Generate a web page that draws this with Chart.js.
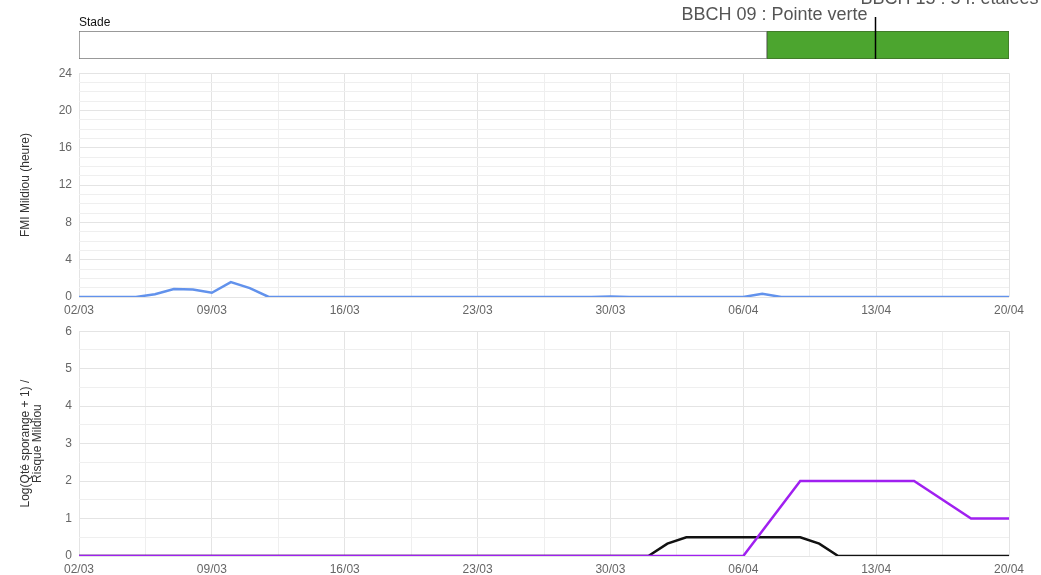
<!DOCTYPE html>
<html>
<head>
<meta charset="utf-8">
<script src="https://cdn.jsdelivr.net/npm/chart.js@4"></script>
<style>
  body { margin: 0; background: #fff; }
  #wrap { position: relative; width: 1041px; height: 575px; }
  canvas { position: absolute; left: 0; }
</style>
</head>
<body>
<div id="wrap">
  <canvas id="stade" width="1041" height="66" style="top:0"></canvas>
  <canvas id="fmi" width="1041" height="261" style="top:59px"></canvas>
  <canvas id="risque" width="1041" height="258" style="top:317px"></canvas>
</div>
<script>
// one entry per day, 02/03 -> 20/04
const dates = [
  '02/03','03/03','04/03','05/03','06/03','07/03','08/03','09/03','10/03','11/03',
  '12/03','13/03','14/03','15/03','16/03','17/03','18/03','19/03','20/03','21/03',
  '22/03','23/03','24/03','25/03','26/03','27/03','28/03','29/03','30/03','31/03',
  '01/04','02/04','03/04','04/04','05/04','06/04','07/04','08/04','09/04','10/04',
  '11/04','12/04','13/04','14/04','15/04','16/04','17/04','18/04','19/04','20/04'
];

// FMI Mildiou (heure)
const fmiHours = [
  0, 0, 0, 0, 0.3, 0.85, 0.8, 0.45, 1.6, 0.95,
  0, 0, 0, 0, 0, 0, 0, 0, 0, 0,
  0, 0, 0, 0, 0, 0, 0, 0, 0.05, 0,
  0, 0, 0, 0, 0, 0, 0.35, 0, 0, 0,
  0, 0, 0, 0, 0, 0, 0, 0, 0, 0
];

// Log(Qté sporange + 1)
const sporangeLog = [
  0, 0, 0, 0, 0, 0, 0, 0, 0, 0,
  0, 0, 0, 0, 0, 0, 0, 0, 0, 0,
  0, 0, 0, 0, 0, 0, 0, 0, 0, 0,
  0, 0.33, 0.5, 0.5, 0.5, 0.5, 0.5, 0.5, 0.5, 0.33,
  0, 0, 0, 0, 0, 0, 0, 0, 0, 0
];

// Risque Mildiou (gaps = no value that day)
const risqueMildiou = [
  0, 0, 0, 0, 0, 0, 0, 0, 0, 0,
  0, 0, 0, 0, 0, 0, 0, 0, 0, 0,
  0, 0, 0, 0, 0, 0, 0, 0, 0, 0,
  0, 0, 0, 0, 0, 0, null, null, 2, 2,
  2, 2, 2, 2, 2, null, null, 1, 1, 1
];

// stage bar (day index from 02/03)
const stageNames = ['', 'BBCH 09 : Pointe verte'];
const stageStart = [0, 36.25];
const stageEnd = [36.25, 49];
const stageColors = ['#ffffff', '#4ca52f'];
const markerDay = 42;
const markerLabel = 'BBCH 15 : 5 f. étalées';

const lastDay = dates.length - 1;

Chart.defaults.font.family = '"Liberation Sans", Arial, sans-serif';
Chart.defaults.font.size = 12;
Chart.defaults.color = '#666';

const toPoints = arr => arr.map((v, i) => ({ x: i, y: v }));

const dayLabel = v => {
  const d = Math.round(v);
  return (Math.abs(v - d) < 1e-6 && d % 7 === 0) ? dates[d] : '';
};

const xScale = {
  type: 'linear',
  min: 0,
  max: lastDay,
  border: { display: false },
  grid: {
    drawTicks: false,
    color: ctx => dayLabel(ctx.tick.value) ? '#e4e4e4' : '#efefef'
  },
  ticks: { stepSize: 3.5, autoSkip: false, maxRotation: 0, padding: 6, color: '#666', callback: dayLabel }
};

const yScale = (max, step, every, title) => ({
  min: 0,
  max: max,
  border: { display: false },
  afterFit: s => { s.width = 79; },
  grid: {
    drawTicks: false,
    color: ctx => (Math.abs(ctx.tick.value % every) < 1e-6) ? '#e4e4e4' : '#efefef'
  },
  ticks: {
    stepSize: step,
    autoSkip: false,
    padding: 7,
    color: '#666',
    callback: v => (Math.abs(v % every) < 1e-6) ? String(v) : ''
  },
  title: {
    display: true,
    text: title,
    color: '#333',
    font: { size: 12, lineHeight: 1.05 },
    padding: { top: 19, bottom: 0 }
  }
});

const baseOptions = {
  responsive: false,
  devicePixelRatio: 1,
  animation: false,
  plugins: { legend: { display: false }, tooltip: { enabled: false } },
  elements: { point: { radius: 0 }, line: { tension: 0 } }
};

// --- stage bar ---
const stagePlugin = {
  id: 'stageMarks',
  afterDraw(chart) {
    const { ctx, chartArea, scales } = chart;
    const mx = Math.round(scales.x.getPixelForValue(markerDay)) - 0.5;
    ctx.save();
    ctx.fillStyle = '#111';
    ctx.font = '12px "Liberation Sans", Arial, sans-serif';
    ctx.textAlign = 'left';
    ctx.fillText('Stade', chartArea.left, 26);

    ctx.strokeStyle = '#000';
    ctx.lineWidth = 1.5;
    ctx.beginPath();
    ctx.moveTo(mx, 17);
    ctx.lineTo(mx, chartArea.bottom);
    ctx.stroke();

    ctx.fillStyle = '#555';
    ctx.font = '18px "Liberation Sans", Arial, sans-serif';
    ctx.textAlign = 'right';
    ctx.fillText(stageNames[1], mx - 8, 20);
    ctx.textAlign = 'left';
    ctx.fillText(markerLabel, mx - 15, 4);
    ctx.restore();
  }
};

new Chart(document.getElementById('stade'), {
  type: 'bar',
  data: {
    labels: ['Stade'],
    datasets: stageNames.map((name, i) => ({
      label: name || 'none',
      data: [[stageStart[i], stageEnd[i]]],
      backgroundColor: stageColors[i],
      borderColor: i === 0 ? '#777' : '#3f6f2a',
      borderWidth: 1,
      borderSkipped: false,
      grouped: false,
      barPercentage: 1,
      categoryPercentage: 1
    }))
  },
  options: {
    ...baseOptions,
    indexAxis: 'y',
    layout: { padding: { left: 79, right: 32, top: 31, bottom: 7 } },
    scales: {
      x: { type: 'linear', min: 0, max: lastDay, display: false },
      y: { display: false }
    }
  },
  plugins: [stagePlugin]
});

// --- FMI Mildiou ---
new Chart(document.getElementById('fmi'), {
  type: 'line',
  data: {
    datasets: [{
      label: 'FMI Mildiou',
      data: toPoints(fmiHours),
      borderColor: 'rgb(98,146,236)',
      borderWidth: 2.5
    }]
  },
  options: {
    ...baseOptions,
    layout: { padding: { left: 0, right: 32, top: 0, bottom: 0 } },
    scales: {
      x: { ...xScale, afterFit: s => { s.height = 23; } },
      y: yScale(24, 1, 4, 'FMI Mildiou (heure)')
    }
  }
});

// --- Sporanges / risque ---
new Chart(document.getElementById('risque'), {
  type: 'line',
  data: {
    datasets: [{
      label: 'Risque Mildiou',
      data: toPoints(risqueMildiou),
      borderColor: 'rgb(160,32,240)',
      borderWidth: 2.5,
      spanGaps: true
    }, {
      label: 'Log(Qté sporange + 1)',
      data: toPoints(sporangeLog),
      borderColor: '#111',
      borderWidth: 2.5
    }]
  },
  options: {
    ...baseOptions,
    layout: { padding: { left: 0, right: 32, top: 0, bottom: 0 } },
    scales: {
      x: { ...xScale, afterFit: s => { s.height = 19; } },
      y: yScale(6, 0.5, 1, ['Log(Qté sporange + 1) /', 'Risque Mildiou'])
    }
  }
});
</script>
</body>
</html>
